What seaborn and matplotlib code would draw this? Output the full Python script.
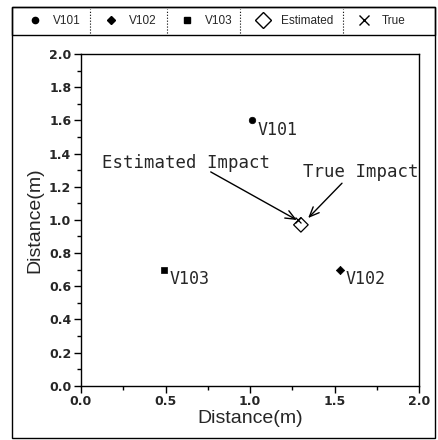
import matplotlib
matplotlib.use("Agg")
import matplotlib.pyplot as plt
import seaborn as sns
import pandas as pd
from matplotlib.lines import Line2D
from matplotlib.patches import Rectangle
from matplotlib.ticker import MultipleLocator

# ---- data ----
sensor_names = ["V101", "V102", "V103"]
sensor_x = [1.01, 1.53, 0.49]
sensor_y = [1.60, 0.70, 0.70]
sensor_markers = ["o", "D", "s"]

estimated_x = [1.30]
estimated_y = [0.97]
true_x = [1.28]
true_y = [1.00]

x_ticks = [0.0, 0.5, 1.0, 1.5, 2.0]
y_ticks = [0.0, 0.2, 0.4, 0.6, 0.8, 1.0, 1.2, 1.4, 1.6, 1.8, 2.0]

sns.set_style("ticks")
plt.rcParams["font.family"] = ["Liberation Sans", "DejaVu Sans"]

W, H = 439, 440
fig = plt.figure(figsize=(W / 100, H / 100), dpi=100)
ax = fig.add_axes([81 / W, 1 - 385.7 / H, (419.3 - 81) / W, (385.7 - 54) / H])

sensors = pd.DataFrame({"name": sensor_names, "x": sensor_x, "y": sensor_y})
for name, mk in zip(sensor_names, sensor_markers):
    sub = sensors[sensors["name"] == name]
    sz = 22 if mk != "D" else 18
    sns.scatterplot(data=sub, x="x", y="y", marker=mk, s=sz, color="black",
                    edgecolor="black", linewidth=0.5, ax=ax, legend=False, zorder=3)
    ax.annotate(name, (sub["x"].iloc[0], sub["y"].iloc[0]), xytext=(4, -7),
                textcoords="offset points", ha="left", va="center",
                fontsize=12, family="DejaVu Sans Mono")

sns.scatterplot(x=estimated_x, y=estimated_y, marker="D", s=55, facecolor="none",
                edgecolor="black", linewidth=0.9, ax=ax, legend=False, zorder=3)
sns.scatterplot(x=true_x, y=true_y, marker="x", s=18, color="black",
                linewidth=0.9, ax=ax, legend=False, zorder=4)

# annotations
ax.text(0.62, 1.345, "Estimated Impact", ha="center", va="center",
        fontsize=12.5, family="DejaVu Sans Mono")
ax.text(1.655, 1.29, "True Impact", ha="center", va="center",
        fontsize=12.5, family="DejaVu Sans Mono")
ap = dict(arrowstyle="->,head_length=0.7,head_width=0.3", color="black", lw=1.0,
          shrinkA=0, shrinkB=0)
ax.annotate("", xy=(1.276, 0.999), xytext=(0.767, 1.289), arrowprops=ap)
ax.annotate("", xy=(1.343, 1.011), xytext=(1.543, 1.221), arrowprops=ap)

ax.set_xlim(0, 2.0)
ax.set_ylim(0, 2.0)
ax.set_xticks(x_ticks)
ax.set_yticks(y_ticks)
ax.set_xticklabels([f"{v:.1f}" for v in x_ticks])
ax.set_yticklabels([f"{v:.1f}" for v in y_ticks])
ax.xaxis.set_minor_locator(MultipleLocator(0.25))
ax.yaxis.set_minor_locator(MultipleLocator(0.1))
ax.tick_params(which="major", direction="out", length=5, width=1.0, color="black",
               labelsize=9, pad=2)
ax.tick_params(which="minor", direction="out", length=3, width=1.0, color="black")
for lab in ax.get_xticklabels() + ax.get_yticklabels():
    lab.set_fontweight("bold")
    lab.set_family("DejaVu Sans")
for sp in ax.spines.values():
    sp.set_visible(True)
    sp.set_color("black")
    sp.set_linewidth(1.0)
ax.set_xlabel("Distance(m)", fontsize=14, labelpad=1)
ax.set_ylabel("Distance(m)", fontsize=14, labelpad=4)

# outer frame and legend box
fig.add_artist(Rectangle((12 / W, 1 - 438 / H), (435 - 12) / W, (438 - 7) / H,
                         transform=fig.transFigure, fill=False, edgecolor="black",
                         linewidth=1.0))
fig.add_artist(Rectangle((12 / W, 1 - 35 / H), (435 - 12) / W, (35 - 7) / H,
                         transform=fig.transFigure, fill=False, edgecolor="black",
                         linewidth=1.0))

# legend
handles = [
    Line2D([], [], ls="none", marker="o", ms=4.5, color="black"),
    Line2D([], [], ls="none", marker="D", ms=4, color="black"),
    Line2D([], [], ls="none", marker="s", ms=4.5, color="black"),
    Line2D([], [], ls="none", marker="D", ms=8, mfc="none", mec="black", mew=1.0),
    Line2D([], [], ls="none", marker="x", ms=7, color="black", mew=1.0),
]
labels = ["V101", "V102", "V103", "Estimated", "True"]
leg = fig.legend(handles, labels, loc="center left", ncol=5,
                 bbox_to_anchor=(28 / W, 1 - 21 / H),
                 borderaxespad=0, frameon=False, borderpad=0,
                 fontsize=8.5, handlelength=1.2, handletextpad=0.9,
                 columnspacing=2.0)
for xd in [90, 167, 240, 343]:
    fig.add_artist(Line2D([xd / W, xd / W], [1 - 33 / H, 1 - 9 / H],
                          transform=fig.transFigure, color="black", lw=0.8, ls=":"))

fig.savefig("out.png", dpi=100)
